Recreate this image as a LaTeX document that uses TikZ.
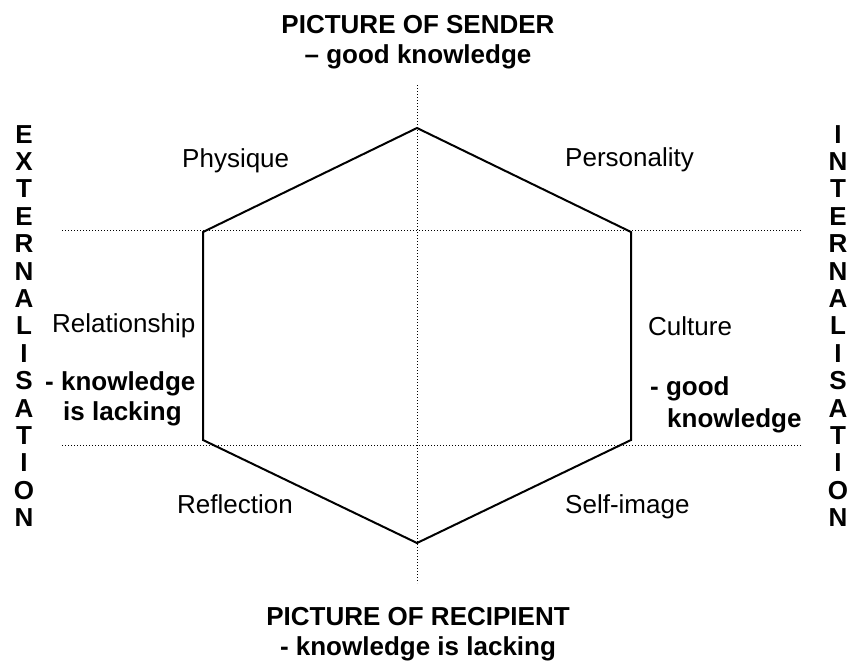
\documentclass[tikz,border=0pt]{standalone}
\usepackage{fontspec}
\setmainfont{Liberation Sans}

\tikzset{
  hexline/.style={line width=2pt, line join=miter},
  guide/.style={line width=1pt, dash pattern=on 1pt off 2pt},
  lbl/.style={inner sep=0pt, font=\fontsize{26}{30}\selectfont},
  boldlbl/.style={lbl, font=\fontsize{26}{30}\selectfont\bfseries},
}

\begin{document}
\begin{tikzpicture}[x=1pt, y=-1pt]
    \useasboundingbox (0,0) rectangle (853,670);

    % Corners of the hexagon.
    \coordinate (top) at (417,128);
    \coordinate (ur) at (631,232);
    \coordinate (lr) at (631,440);
    \coordinate (bot) at (417,543);
    \coordinate (ll) at (203,440);
    \coordinate (ul) at (203,232);

    % Guide lines.
    \coordinate (vtop) at (417,85);
    \coordinate (vbot) at (417,583);
    \coordinate (hlA) at (62,230);
    \coordinate (hrA) at (801,230);
    \coordinate (hlB) at (62,445);
    \coordinate (hrB) at (801,445);
    \draw[guide] (vtop) -- (vbot);
    \draw[guide] (hlA) -- (hrA);
    \draw[guide] (hlB) -- (hrB);

    \draw[hexline] (top) -- (ur) -- (lr) -- (bot) -- (ll) -- (ul) -- cycle;

    % Titles.
    \node[boldlbl, anchor=base] (sender) at (418,33) {PICTURE OF SENDER};
    \node[boldlbl, anchor=base] (senderk) at (418,63) {– good knowledge};
    \node[boldlbl, anchor=base] (recip) at (418,625) {PICTURE OF RECIPIENT};
    \node[boldlbl, anchor=base] (recipk) at (418,655) {- knowledge is lacking};

    % Side words, one letter per line.
    \foreach \c [count=\i from 0] in {E,X,T,E,R,N,A,L,I,S,A,T,I,O,N}
        \node[boldlbl, anchor=base] (ext\i) at (24,143+27.4*\i) {\c};
    \foreach \c [count=\i from 0] in {I,N,T,E,R,N,A,L,I,S,A,T,I,O,N}
        \node[boldlbl, anchor=base] (int\i) at (838,143+27.4*\i) {\c};

    % Sides of the hexagon.
    \node[lbl, anchor=base west] (physique) at (182,167) {Physique};
    \node[lbl, anchor=base west] (personality) at (565,166) {Personality};
    \node[lbl, anchor=base west] (relation) at (52,332) {Relationship};
    \node[lbl, anchor=base west] (culture) at (648,335) {Culture};
    \node[lbl, anchor=base west] (reflection) at (177,513) {Reflection};
    \node[lbl, anchor=base west] (selfimage) at (565,513) {Self-image};

    \node[boldlbl, anchor=base west] (lackA) at (45,390) {- knowledge};
    \node[boldlbl, anchor=base west] (lackB) at (63,420) {is lacking};
    \node[boldlbl, anchor=base west] (goodA) at (650,395) {- good};
    \node[boldlbl, anchor=base west] (goodB) at (667,427) {knowledge};
\end{tikzpicture}
\end{document}
